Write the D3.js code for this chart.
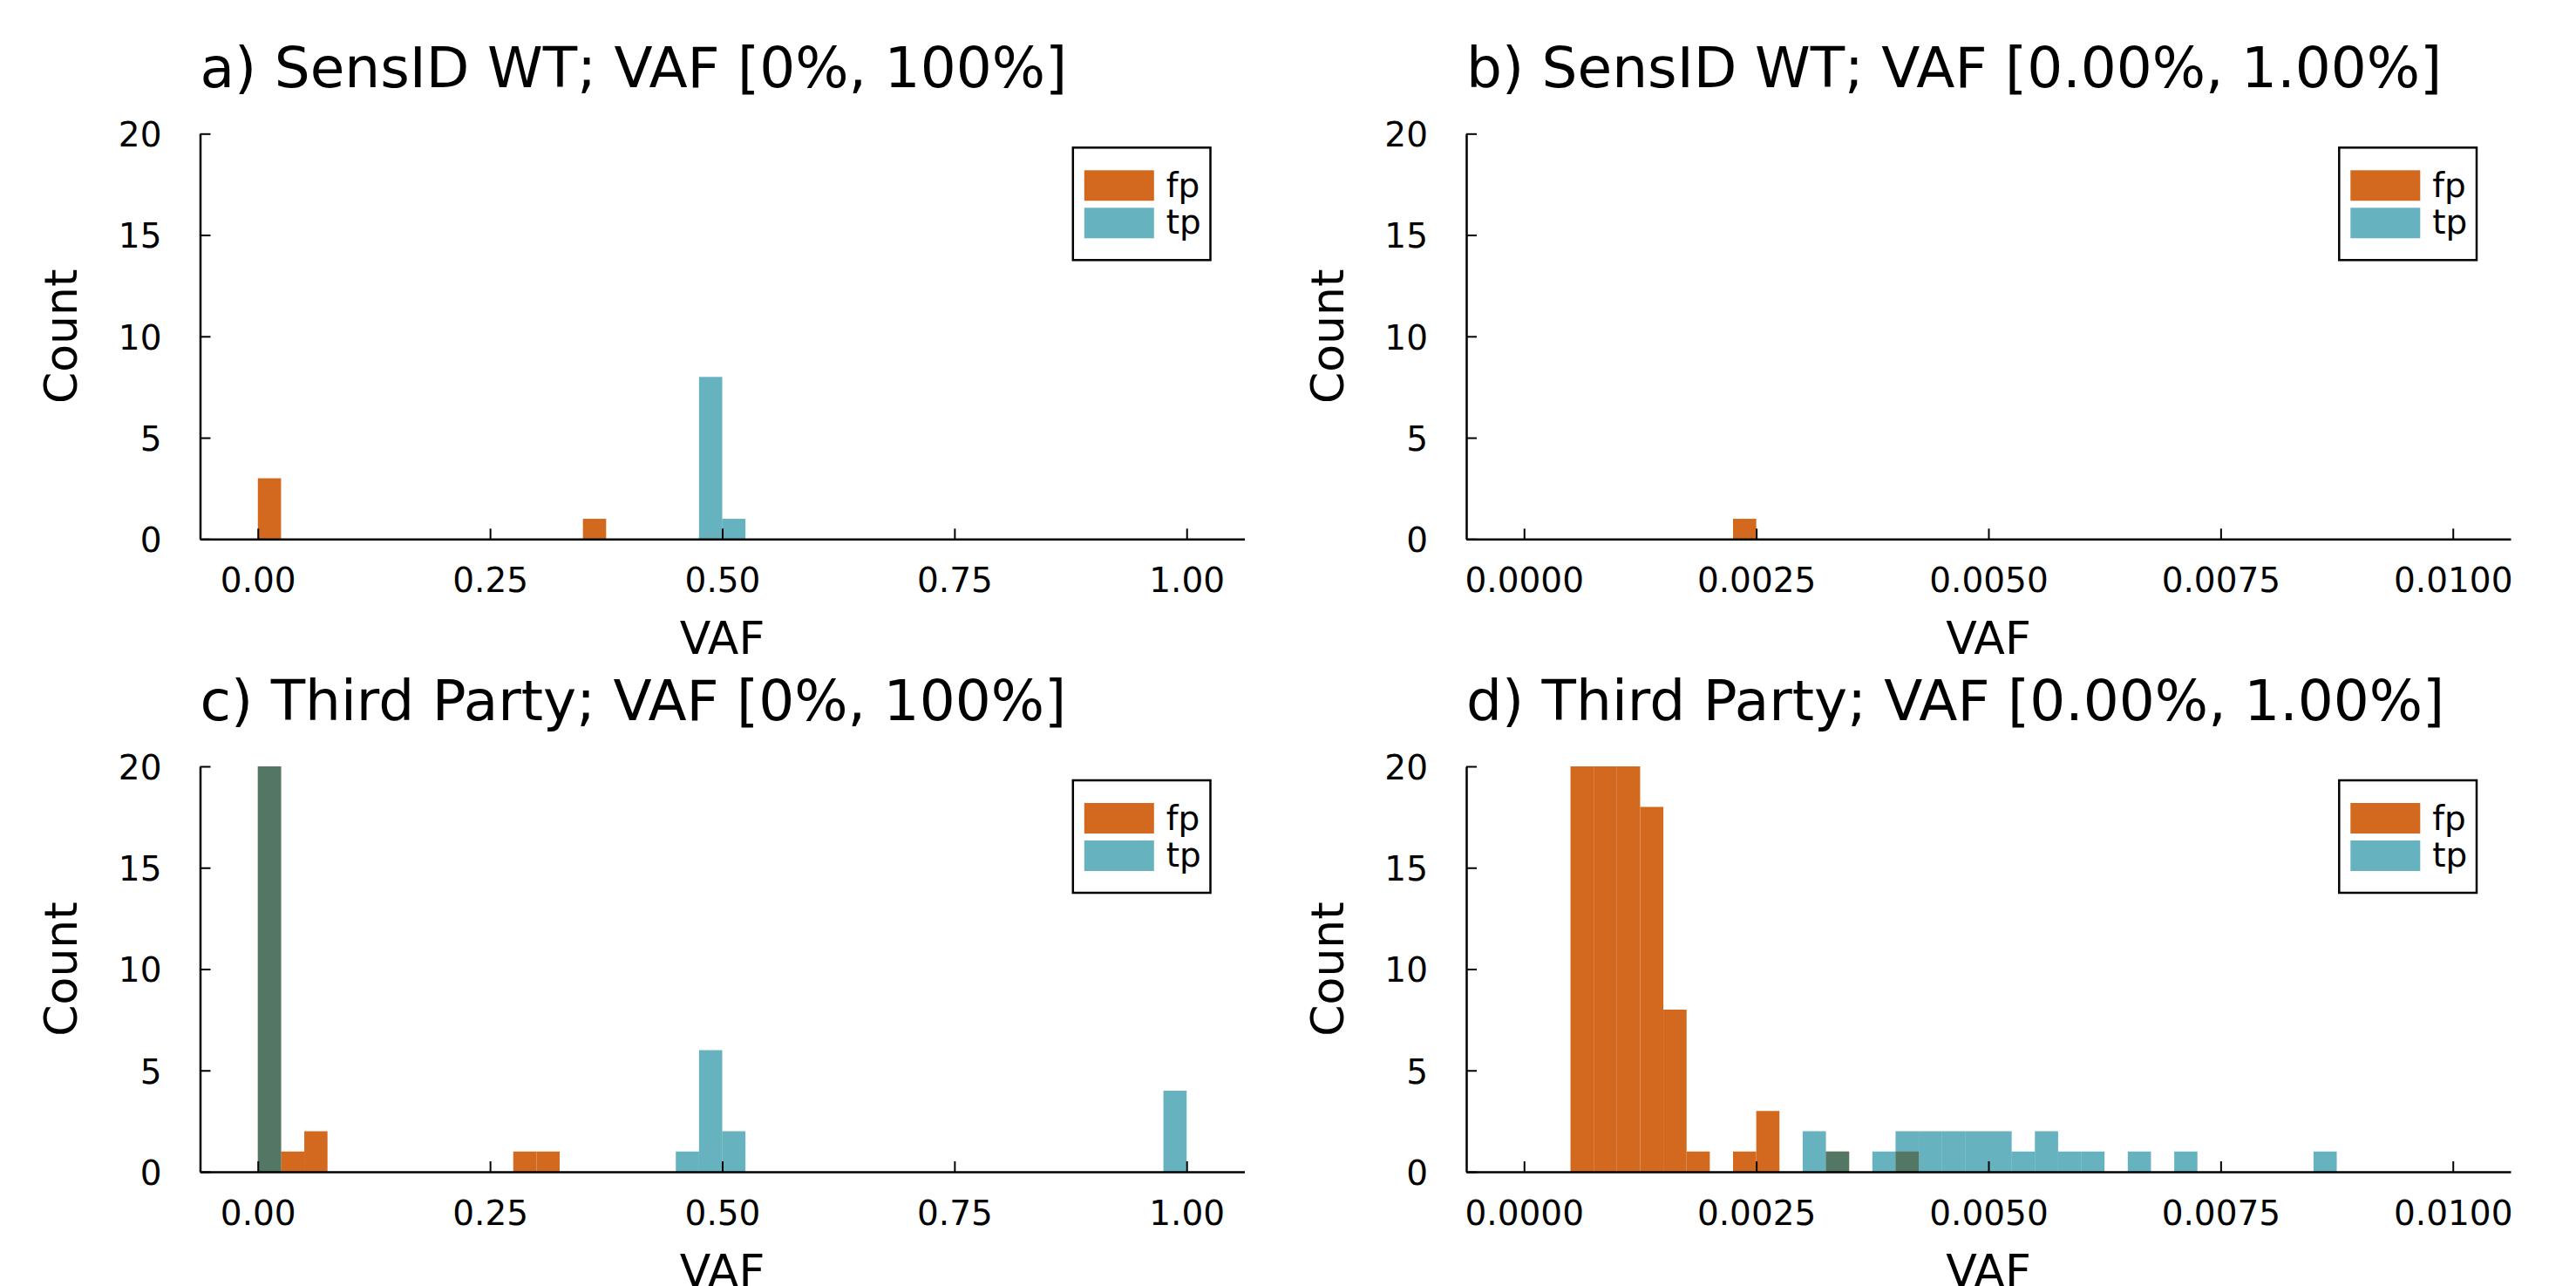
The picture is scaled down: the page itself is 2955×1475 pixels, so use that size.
<!DOCTYPE html>
<html lang="en">
<head>
  <meta charset="UTF-8">
  <title>VAF histograms</title>
  <style>
    body { margin: 0; background: white; }
    svg { display: block; font-family: "DejaVu Sans", sans-serif; }
  </style>
</head>
<body>
  <div id="chart"></div>
  <script src="https://d3js.org/d3.v7.min.js"></script>
  <script>
    // histogram bins: left edge of each bin + count
    const wideBin = 0.025,
      narrowBin = 0.00025;

    const wideTicks = [0, 0.25, 0.5, 0.75, 1.0];
    const narrowTicks = [0, 0.0025, 0.005, 0.0075, 0.01];
    const countTicks = [0, 5, 10, 15, 20];

    const titles = [
      "a) SensID WT; VAF [0%, 100%]",
      "b) SensID WT; VAF [0.00%, 1.00%]",
      "c) Third Party; VAF [0%, 100%]",
      "d) Third Party; VAF [0.00%, 1.00%]"
    ];

    // a) SensID, full range
    const aFpBins = [0.000, 0.350];
    const aFpCounts = [3, 1];
    const aTpBins = [0.475, 0.500];
    const aTpCounts = [8, 1];

    // b) SensID, low VAF
    const bFpBins = [0.00225];
    const bFpCounts = [1];
    const bTpBins = [];
    const bTpCounts = [];

    // c) third party, full range (first bin runs off the top at 20)
    const cFpBins = [0.000, 0.025, 0.050, 0.275, 0.300];
    const cFpCounts = [20, 1, 2, 1, 1];
    const cTpBins = [0.000, 0.450, 0.475, 0.500, 0.975];
    const cTpCounts = [20, 1, 6, 2, 4];

    // d) third party, low VAF
    const dFpBins = [0.0005, 0.00075, 0.001, 0.00125, 0.0015, 0.00175, 0.00225, 0.0025, 0.00325, 0.004];
    const dFpCounts = [20, 20, 20, 18, 8, 1, 1, 3, 1, 1];
    const dTpBins = [0.003, 0.00325, 0.00375, 0.004, 0.00425, 0.0045, 0.00475, 0.005, 0.00525,
      0.0055, 0.00575, 0.006, 0.0065, 0.007, 0.0085];
    const dTpCounts = [2, 1, 1, 2, 2, 2, 2, 2, 1, 2, 1, 1, 1, 1, 1];

    const fpColor = "#d2691e",
      tpColor = "rgb(0,127,148)",
      tpAlpha = 0.6;

    const width = 2955,
      height = 1475,
      plotW = 1198,
      plotH = 465;

    const svg = d3.select("#chart")
      .append("svg")
      .attr("width", width)
      .attr("height", height)
      .attr("viewBox", [0, 0, width, height]);

    const toBars = (bins, counts) => bins.map((b, i) => ({ x0: b, n: counts[i] }));

    const panels = [
      { title: titles[0], left: 229.5, top: 153.3, bw: wideBin, ticks: wideTicks, dec: 2,
        fp: toBars(aFpBins, aFpCounts), tp: toBars(aTpBins, aTpCounts) },
      { title: titles[1], left: 1682, top: 153.3, bw: narrowBin, ticks: narrowTicks, dec: 4,
        fp: toBars(bFpBins, bFpCounts), tp: toBars(bTpBins, bTpCounts) },
      { title: titles[2], left: 229.5, top: 879, bw: wideBin, ticks: wideTicks, dec: 2,
        fp: toBars(cFpBins, cFpCounts), tp: toBars(cTpBins, cTpCounts) },
      { title: titles[3], left: 1682, top: 879, bw: narrowBin, ticks: narrowTicks, dec: 4,
        fp: toBars(dFpBins, dFpCounts), tp: toBars(dTpBins, dTpCounts) }
    ];

    panels.forEach((p, k) => {
      const xmax = p.ticks[p.ticks.length - 1];
      const pad = xmax * 0.0622;
      const x = d3.scaleLinear()
        .domain([-pad, xmax + pad])
        .range([p.left, p.left + plotW]);
      const y = d3.scaleLinear()
        .domain([0, 20])
        .range([p.top + plotH, p.top]);

      svg.append("clipPath")
        .attr("id", "clip" + k)
        .append("rect")
        .attr("x", p.left)
        .attr("y", p.top)
        .attr("width", plotW)
        .attr("height", plotH);

      const g = svg.append("g").attr("clip-path", `url(#clip${k})`);

      // fp first (opaque), tp over it with alpha -> dark overlap
      g.append("g")
        .attr("fill", fpColor)
        .selectAll("rect")
        .data(p.fp)
        .join("rect")
        .attr("x", d => x(d.x0))
        .attr("width", d => x(d.x0 + p.bw) - x(d.x0))
        .attr("y", d => y(d.n))
        .attr("height", d => y(0) - y(d.n));

      g.append("g")
        .attr("fill", tpColor)
        .attr("fill-opacity", tpAlpha)
        .selectAll("rect")
        .data(p.tp)
        .join("rect")
        .attr("x", d => x(d.x0))
        .attr("width", d => x(d.x0 + p.bw) - x(d.x0))
        .attr("y", d => y(d.n))
        .attr("height", d => y(0) - y(d.n));

      // axes, ticks pointing inward
      const xAxis = svg.append("g")
        .attr("transform", `translate(0,${p.top + plotH})`)
        .call(d3.axisBottom(x)
          .tickValues(p.ticks)
          .tickFormat(d => d.toFixed(p.dec))
          .tickSize(-12)
          .tickSizeOuter(0)
          .tickPadding(33));

      const yAxis = svg.append("g")
        .attr("transform", `translate(${p.left},0)`)
        .call(d3.axisLeft(y)
          .tickValues(countTicks)
          .tickSize(-12)
          .tickSizeOuter(0)
          .tickPadding(44));

      [xAxis, yAxis].forEach(ax => {
        ax.attr("font-family", null).attr("font-size", null);
        ax.select(".domain").attr("stroke", "black").attr("stroke-width", 2.5);
        ax.selectAll(".tick line").attr("stroke", "black").attr("stroke-width", 2);
        ax.selectAll(".tick text").style("font-size", "39px").attr("fill", "black");
      });
      yAxis.selectAll(".tick text").attr("dy", "0.37em");

      // title + axis labels
      svg.append("text")
        .attr("x", p.left)
        .attr("y", p.top - 53.3)
        .style("font-size", "64.5px")
        .text(p.title);

      svg.append("text")
        .attr("x", p.left + plotW / 2)
        .attr("y", p.top + plotH + 131.7)
        .attr("text-anchor", "middle")
        .style("font-size", "52px")
        .text("VAF");

      svg.append("text")
        .attr("transform", `translate(${p.left - 141.2},${p.top + plotH / 2}) rotate(-90)`)
        .attr("text-anchor", "middle")
        .style("font-size", "52px")
        .text("Count");

      // legend box top right
      const lx = p.left + plotW - 196.7,
        ly = p.top + 16;
      const legend = svg.append("g").attr("transform", `translate(${lx},${ly})`);
      legend.append("rect")
        .attr("width", 157.7)
        .attr("height", 129)
        .attr("fill", "white")
        .attr("stroke", "black")
        .attr("stroke-width", 2.5);

      const items = [
        { label: "fp", color: fpColor, alpha: 1 },
        { label: "tp", color: tpColor, alpha: tpAlpha }
      ];
      legend.selectAll(".sw")
        .data(items)
        .join("rect")
        .attr("class", "sw")
        .attr("x", 13)
        .attr("y", (d, i) => 26 + i * 43)
        .attr("width", 80)
        .attr("height", 35)
        .attr("fill", d => d.color)
        .attr("fill-opacity", d => d.alpha);
      legend.selectAll(".lb")
        .data(items)
        .join("text")
        .attr("class", "lb")
        .attr("x", 107)
        .attr("y", (d, i) => 57 + i * 42)
        .style("font-size", "39px")
        .text(d => d.label);
    });
  </script>
</body>
</html>
